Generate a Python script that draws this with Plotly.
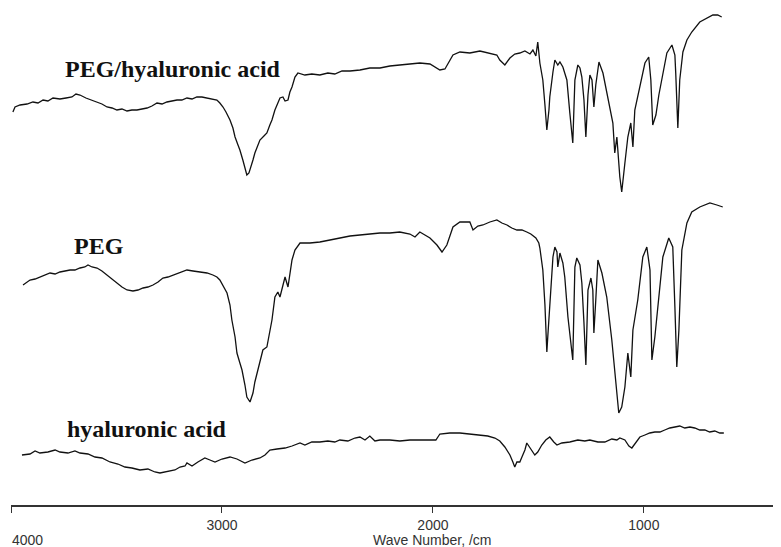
import plotly.graph_objects as go

# ---- PEG/hyaluronic acid (top spectrum) ----
peg_ha_wn = [3991, 3981, 3957, 3924, 3896, 3872, 3848, 3825, 3801, 3768, 3739, 3711, 3692, 3673, 3645,
             3616, 3592, 3569, 3545, 3521, 3498, 3474, 3450, 3427, 3403, 3379, 3355, 3332, 3308, 3284,
             3261, 3237, 3213, 3190, 3166, 3142, 3119, 3095, 3071, 3047, 3024, 3010, 2995, 2981, 2962,
             2948, 2938, 2924, 2915, 2901, 2891, 2882, 2872, 2867, 2853, 2844, 2829, 2820, 2801, 2787,
             2773, 2763, 2749, 2739, 2725, 2711, 2701, 2687, 2678, 2668, 2654, 2640, 2607, 2574, 2536,
             2498, 2465, 2431, 2393, 2346, 2299, 2251, 2204, 2157, 2109, 2062, 2014, 1986, 1967, 1943,
             1920, 1905, 1872, 1825, 1777, 1730, 1697, 1683, 1659, 1635, 1612, 1588, 1564, 1540, 1526,
             1512, 1503, 1493, 1479, 1469, 1460, 1450, 1446, 1431, 1422, 1408, 1398, 1384, 1365, 1351,
             1346, 1337, 1327, 1313, 1303, 1294, 1284, 1275, 1265, 1256, 1246, 1237, 1228, 1213, 1194,
             1171, 1147, 1138, 1128, 1114, 1105, 1090, 1076, 1062, 1052, 1043, 1019, 995, 977, 967,
             958, 943, 929, 915, 891, 867, 853, 849, 839, 830, 815, 796, 773, 735, 702,
             673, 650, 631]
peg_ha_t = [78.6, 79.6, 80.0, 80.2, 80.6, 80.4, 81.0, 80.8, 81.4, 81.2, 81.4, 81.6, 82.2, 82.0, 81.4,
            81.0, 80.6, 80.2, 79.6, 79.4, 79.0, 79.2, 78.8, 79.0, 79.0, 79.2, 79.4, 79.8, 80.4, 80.2,
            80.6, 80.8, 81.0, 81.0, 81.4, 81.2, 81.6, 81.6, 81.4, 81.2, 81.0, 80.4, 79.6, 78.6, 77.0,
            75.4, 73.6, 72.0, 71.0, 69.0, 67.6, 66.0, 66.4, 67.0, 69.0, 70.4, 71.8, 73.0, 73.8, 74.4,
            76.0, 77.0, 79.0, 80.0, 81.4, 81.6, 80.8, 81.0, 82.6, 83.6, 85.6, 86.4, 86.0, 86.2, 86.0,
            86.4, 86.2, 86.8, 86.8, 87.0, 87.4, 87.4, 87.8, 88.0, 88.2, 88.4, 88.2, 87.4, 87.0, 87.2,
            89.0, 90.0, 90.6, 90.4, 90.8, 90.4, 90.0, 89.0, 88.0, 89.4, 90.2, 90.4, 90.8, 90.2, 91.0,
            89.8, 92.6, 88.4, 85.0, 80.0, 75.0, 79.0, 81.6, 86.6, 89.0, 88.0, 88.6, 87.6, 85.0, 78.4,
            76.0, 72.4, 85.0, 88.0, 87.4, 85.6, 81.0, 73.6, 82.0, 86.0, 85.0, 79.6, 84.0, 88.6, 86.4,
            81.6, 76.4, 70.4, 73.6, 65.6, 62.6, 68.4, 73.6, 76.4, 71.6, 79.0, 83.6, 88.4, 89.6, 85.0,
            76.0, 78.0, 82.0, 85.0, 90.4, 92.0, 90.0, 86.4, 75.4, 85.0, 90.6, 93.0, 94.6, 96.6, 97.4,
            98.0, 98.0, 97.6]

# ---- PEG (middle spectrum) ----
peg_wn = [3943, 3924, 3910, 3886, 3863, 3839, 3815, 3791, 3768, 3744, 3720, 3697, 3673, 3650, 3635,
          3616, 3592, 3569, 3545, 3521, 3498, 3474, 3450, 3422, 3398, 3374, 3351, 3327, 3303, 3280,
          3256, 3232, 3199, 3166, 3137, 3104, 3071, 3043, 3024, 3010, 2991, 2976, 2962, 2953, 2938,
          2929, 2915, 2905, 2891, 2882, 2867, 2853, 2844, 2829, 2820, 2806, 2787, 2773, 2763, 2749,
          2735, 2725, 2711, 2701, 2687, 2678, 2668, 2654, 2645, 2630, 2583, 2536, 2488, 2441, 2393,
          2346, 2299, 2251, 2204, 2157, 2109, 2085, 2062, 2014, 1981, 1957, 1934, 1905, 1872, 1825,
          1810, 1787, 1763, 1730, 1697, 1673, 1649, 1626, 1602, 1578, 1555, 1536, 1512, 1498, 1493,
          1479, 1469, 1465, 1460, 1455, 1446, 1431, 1422, 1412, 1408, 1398, 1384, 1375, 1360, 1346,
          1337, 1327, 1318, 1303, 1294, 1284, 1275, 1265, 1256, 1251, 1242, 1237, 1228, 1218, 1199,
          1176, 1152, 1138, 1128, 1119, 1105, 1090, 1076, 1062, 1052, 1029, 1005, 986, 971, 962,
          948, 934, 910, 882, 863, 853, 844, 834, 820, 796, 773, 735, 687, 654, 626]
peg_t = [44.0, 44.6, 45.0, 45.2, 45.6, 46.0, 46.4, 46.2, 46.6, 46.8, 47.0, 47.0, 47.4, 47.6, 48.0,
         47.6, 47.4, 46.8, 46.0, 45.2, 44.4, 43.6, 43.0, 42.8, 43.0, 43.4, 43.6, 44.0, 44.6, 45.4,
         45.6, 46.0, 46.4, 47.0, 46.8, 46.6, 46.4, 46.0, 45.6, 45.0, 43.6, 42.4, 40.0, 37.0, 33.6,
         30.4, 28.4, 27.0, 24.0, 21.6, 20.6, 22.4, 24.6, 27.0, 29.0, 31.0, 31.6, 34.6, 37.0, 41.6,
         42.6, 41.6, 44.0, 45.6, 43.6, 46.6, 49.0, 51.0, 51.6, 52.4, 52.4, 52.6, 53.0, 53.4, 53.8,
         54.0, 54.2, 54.4, 54.4, 54.6, 54.2, 53.6, 54.6, 53.4, 52.0, 50.6, 52.0, 55.6, 56.6, 56.6,
         55.0, 55.8, 56.0, 56.6, 57.0, 56.4, 56.0, 55.4, 55.0, 55.0, 54.6, 54.2, 53.4, 52.4, 51.4,
         47.0, 40.0, 35.0, 30.6, 34.0, 40.4, 49.6, 51.6, 50.6, 47.6, 50.4, 48.4, 45.6, 37.6, 32.4,
         29.0, 47.6, 49.4, 48.0, 44.4, 36.4, 28.0, 43.0, 45.0, 45.4, 43.0, 34.4, 41.0, 49.0, 46.4,
         41.6, 33.0, 26.6, 21.6, 18.4, 19.6, 23.6, 30.4, 25.6, 35.0, 41.0, 49.6, 51.6, 47.0, 29.0,
         33.6, 39.6, 49.6, 53.4, 51.6, 39.6, 27.6, 35.0, 51.0, 56.4, 58.6, 59.6, 60.4, 60.0, 59.6]

# ---- hyaluronic acid (bottom spectrum) ----
ha_wn = [3948, 3910, 3886, 3863, 3825, 3791, 3768, 3730, 3697, 3673, 3635, 3602, 3569, 3531, 3493,
         3460, 3427, 3389, 3351, 3318, 3294, 3270, 3246, 3223, 3199, 3175, 3166, 3142, 3114, 3081,
         3057, 3033, 3000, 2962, 2929, 2891, 2858, 2820, 2796, 2773, 2739, 2701, 2668, 2630, 2607,
         2574, 2536, 2498, 2465, 2441, 2403, 2370, 2346, 2322, 2299, 2275, 2251, 2204, 2157, 2109,
         2062, 2014, 1986, 1967, 1920, 1872, 1825, 1777, 1740, 1706, 1683, 1659, 1635, 1621, 1612,
         1602, 1588, 1578, 1564, 1555, 1540, 1526, 1517, 1503, 1484, 1465, 1446, 1427, 1412, 1389,
         1351, 1313, 1280, 1256, 1218, 1185, 1152, 1128, 1114, 1090, 1071, 1057, 1038, 1019, 995,
         972, 948, 924, 901, 877, 853, 830, 806, 782, 759, 735, 711, 688, 664, 640, 621]
ha_t = [10.0, 10.2, 10.8, 10.4, 10.6, 11.0, 10.6, 10.4, 10.8, 10.4, 10.2, 9.6, 9.4, 8.6, 8.2,
        7.6, 7.4, 7.0, 7.2, 6.6, 6.4, 6.6, 6.8, 7.0, 7.6, 7.8, 8.4, 7.8, 8.6, 9.4,
        9.0, 8.6, 9.2, 9.6, 9.2, 8.4, 9.0, 9.4, 10.0, 11.0, 11.2, 11.4, 11.8, 12.4, 12.0,
        12.6, 12.6, 12.8, 12.6, 13.0, 12.8, 13.4, 13.6, 13.0, 13.8, 12.8, 13.0, 13.0, 12.8, 13.0,
        13.0, 13.0, 13.0, 14.2, 14.4, 14.4, 14.2, 14.0, 13.8, 13.4, 12.8, 11.6, 10.0, 8.6, 7.6,
        8.6, 8.6, 9.6, 11.0, 12.4, 11.4, 10.6, 10.0, 10.6, 12.0, 13.0, 13.6, 12.6, 12.0, 12.4,
        12.6, 13.0, 12.8, 13.0, 12.6, 12.6, 13.2, 13.0, 13.4, 13.0, 11.8, 11.4, 12.6, 13.6, 14.0,
        14.4, 14.6, 14.6, 15.0, 15.4, 15.6, 15.8, 15.4, 15.6, 15.4, 15.0, 15.0, 14.6, 14.8, 14.4, 14.4]

tick_vals = [4000, 3000, 2000, 1000]
tick_text = ["", "3000", "2000", "1000"]

series = [(peg_ha_wn, peg_ha_t), (peg_wn, peg_t), (ha_wn, ha_t)]

fig = go.Figure()
for wn, t in series:
    fig.add_trace(go.Scatter(x=wn, y=t, mode="lines",
                             line=dict(color="#111111", width=1.3),
                             showlegend=False, hoverinfo="skip"))

label_font = dict(family="Liberation Serif", size=24, color="#111111")
labels = [("PEG/hyaluronic acid", 3754, 87.2),
          ("PEG", 3711, 51.8),
          ("hyaluronic acid", 3744, 15.2)]
for txt, lx, ly in labels:
    fig.add_annotation(x=lx, y=ly, xref="x", yref="y", text="<b>" + txt + "</b>",
                       showarrow=False, xanchor="left", yanchor="middle", font=label_font)

axis_font = dict(family="Liberation Sans", size=14, color="#333333")
fig.add_annotation(x=3924, y=-0.070, xref="x", yref="paper", text="4000", showarrow=False,
                   xanchor="center", yanchor="middle", font=axis_font)
fig.add_annotation(x=2000, y=-0.070, xref="x", yref="paper", text="Wave Number, /cm",
                   showarrow=False, xanchor="center", yanchor="middle", font=axis_font)

# the page body adds an 8 px offset, so the figure is sized to fit the window after it
fig.update_layout(
    width=773, height=539,
    margin=dict(l=3, r=0, t=0, b=42),
    paper_bgcolor="white", plot_bgcolor="white",
    xaxis=dict(range=[4000, 350], showgrid=False, zeroline=False,
               showline=True, linecolor="#333333", linewidth=1.5,
               ticks="outside", ticklen=6, tickwidth=1.3, tickcolor="#333333",
               tickvals=tick_vals, ticktext=tick_text, tickfont=axis_font),
    yaxis=dict(range=[0, 99.4], visible=False),
)

fig.write_html("out.html")
